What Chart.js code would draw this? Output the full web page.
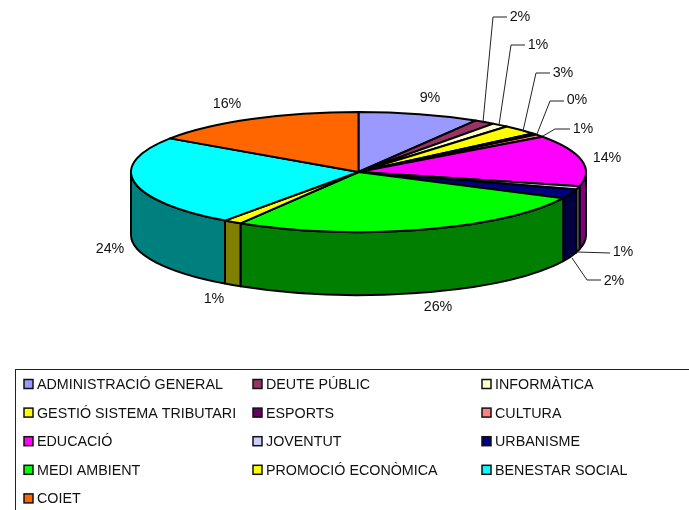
<!DOCTYPE html>
<html>
<head>
<meta charset="utf-8">
<style>
  html, body { margin: 0; padding: 0; background: #fff; overflow: hidden; }
  canvas { display: block; }
</style>
<script src="https://cdn.jsdelivr.net/npm/chart.js@4"></script>
</head>
<body>
<canvas id="grafic" width="689" height="510"></canvas>
<script>
const categories = [
    "ADMINISTRACIÓ GENERAL", "DEUTE PÚBLIC", "INFORMÀTICA",
    "GESTIÓ SISTEMA TRIBUTARI", "ESPORTS", "CULTURA",
    "EDUCACIÓ", "JOVENTUT", "URBANISME",
    "MEDI AMBIENT", "PROMOCIÓ ECONÒMICA", "BENESTAR SOCIAL",
    "COIET",
];
// Percentatges llegits de la imatge
const valors = [8.6, 1.5, 1.2, 2.6, 0.4, 0.7, 13.8, 0.9, 2.49, 26.49, 1.3, 24.49, 15.53];
const colors = [
    "#9999FF", "#993366", "#FFFFCC", "#FFFF00", "#660066", "#FF8080", "#FF00FF",
    "#CCCCFF", "#000080", "#00FF00", "#FFFF00", "#00FFFF", "#FF6600",
];

// Centre del text de cada etiqueta i, si en té, línia guia
const etiquetes = [
    { x: 430, y: 98 },
    { x: 520, y: 17, guia: [[483, 122], [493, 17], [507, 17]] },
    { x: 538, y: 45, guia: [[499, 125], [511, 45], [525, 45]] },
    { x: 563, y: 73, guia: [[523, 131], [536, 73], [550, 73]] },
    { x: 577, y: 100, guia: [[537, 134], [550, 101], [564, 101]] },
    { x: 583, y: 129, guia: [[543, 136], [555, 129], [570, 129]] },
    { x: 607, y: 158 },
    { x: 623, y: 252, guia: [[578, 252], [610, 253]] },
    { x: 614, y: 281, guia: [[572, 258], [587, 280], [601, 280]] },
    { x: 438, y: 307 },
    { x: 214, y: 299 },
    { x: 110, y: 249 },
    { x: 227, y: 104 },
];

const FONT = '14.3px "Liberation Sans", Arial, sans-serif';
const ESTIRAT = 227.5 / 60; // el pastís es dibuixa com una el·lipse
const GRUIX = 63;

function fosc(hex) {
    const n = parseInt(hex.slice(1), 16);
    const r = (n >> 16) >> 1, g = ((n >> 8) & 255) >> 1, b = (n & 255) >> 1;
    return `rgb(${r}, ${g}, ${b})`;
}

const pastis3d = {
    id: "pastis3d",
    beforeDatasetDraw(chart, args) {
        const ctx = chart.ctx;
        const arcs = args.meta.data;
        ctx.save();
        ctx.lineWidth = 2;
        ctx.lineJoin = "round";
        ctx.strokeStyle = "#000";

        // Parets laterals, només la meitat frontal
        arcs.forEach((arc, i) => {
            const a = Math.max(arc.startAngle, 0);
            const b = Math.min(arc.endAngle, Math.PI);
            if (b <= a) return;
            const rx = arc.outerRadius * ESTIRAT, ry = arc.outerRadius;
            ctx.beginPath();
            ctx.ellipse(arc.x, arc.y, rx, ry, 0, a, b);
            ctx.ellipse(arc.x, arc.y + GRUIX, rx, ry, 0, b, a, true);
            ctx.closePath();
            ctx.fillStyle = fosc(colors[i]);
            ctx.fill();
            ctx.stroke();
        });

        // Tapa superior
        arcs.forEach((arc, i) => {
            const rx = arc.outerRadius * ESTIRAT, ry = arc.outerRadius;
            ctx.beginPath();
            ctx.moveTo(arc.x, arc.y);
            ctx.ellipse(arc.x, arc.y, rx, ry, 0, arc.startAngle, arc.endAngle);
            ctx.closePath();
            ctx.fillStyle = colors[i];
            ctx.fill();
            ctx.stroke();
        });
        ctx.restore();
        return false;
    },
    afterDraw(chart) {
        const ctx = chart.ctx;
        const total = valors.reduce((s, v) => s + v, 0);
        ctx.save();

        // Etiquetes de percentatge
        ctx.font = FONT;
        ctx.textAlign = "center";
        ctx.textBaseline = "middle";
        etiquetes.forEach((e, i) => {
            if (e.guia) {
                ctx.beginPath();
                e.guia.forEach((p, j) => (j ? ctx.lineTo(p[0], p[1]) : ctx.moveTo(p[0], p[1])));
                ctx.strokeStyle = "#222";
                ctx.lineWidth = 1;
                ctx.stroke();
            }
            ctx.fillStyle = "#111";
            ctx.fillText(Math.round((valors[i] / total) * 100) + "%", e.x, e.y);
        });

        // Llegenda en tres columnes
        ctx.strokeStyle = "#222";
        ctx.lineWidth = 1;
        ctx.strokeRect(15.5, 369.5, 700, 160);
        const colX = [24, 253, 482];
        ctx.textAlign = "left";
        categories.forEach((nom, i) => {
            const x = colX[i % 3];
            const y = 384 + Math.floor(i / 3) * 28.6;
            ctx.fillStyle = colors[i];
            ctx.fillRect(x, y - 4.5, 9, 9);
            ctx.strokeStyle = "#111";
            ctx.lineWidth = 1.5;
            ctx.strokeRect(x, y - 4.5, 9, 9);
            ctx.fillStyle = "#111";
            ctx.fillText(nom, x + 13, y + 1);
        });
        ctx.restore();
    },
};

new Chart(document.getElementById("grafic"), {
    type: "pie",
    data: {
        labels: categories,
        datasets: [{ data: valors, backgroundColor: colors, borderWidth: 0 }],
    },
    options: {
        responsive: false,
        animation: false,
        layout: { padding: { top: 112, bottom: 278, left: 131, right: 103 } },
        plugins: {
            legend: { display: false },
            tooltip: { enabled: false },
        },
    },
    plugins: [pastis3d],
});
</script>
</body>
</html>
